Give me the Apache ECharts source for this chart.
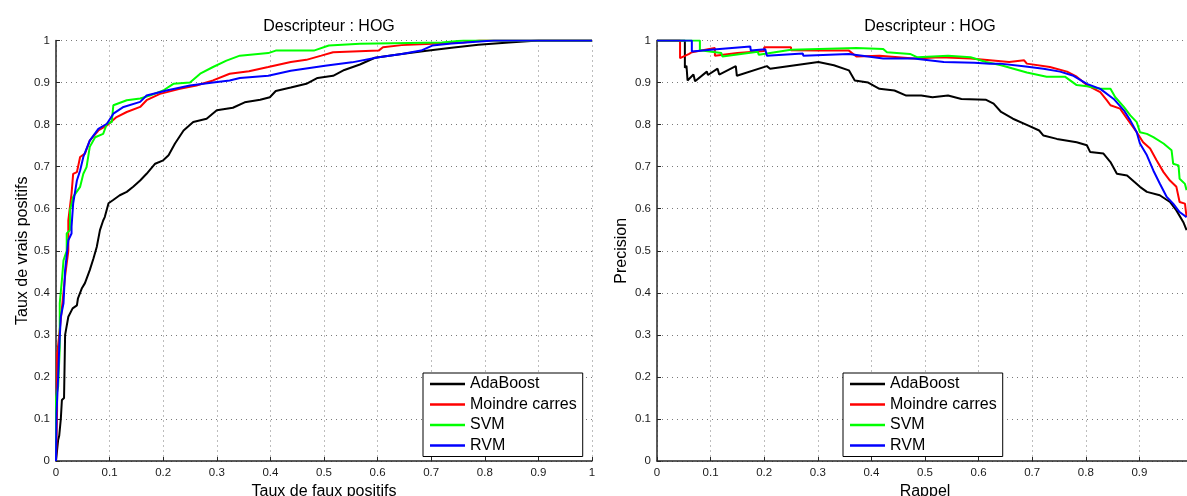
<!DOCTYPE html>
<html>
<head>
<meta charset="utf-8">
<script src="https://cdn.jsdelivr.net/npm/echarts@6/dist/echarts.min.js"></script>
<style>
  html, body { margin: 0; padding: 0; background: #fff; }
  #chart { width: 1187px; height: 496px; }
</style>
</head>
<body>
<div id="chart"></div>
<script>
// noms des methodes
var methodNames = ['AdaBoost', 'Moindre carres', 'SVM', 'RVM'];
var methodColors = ['#000000', '#ff0000', '#00ff00', '#0000ff'];
var axisTicks = [0, 0.1, 0.2, 0.3, 0.4, 0.5, 0.6, 0.7, 0.8, 0.9, 1];

// courbes ROC : [taux de faux positifs, taux de vrais positifs]
var rocAdaBoost = [[0,0],[0.004,0.05],[0.006,0.06],[0.009,0.1],[0.011,0.145],[0.015,0.15],[0.017,0.3],[0.023,0.343],[0.031,0.363],[0.039,0.37],[0.041,0.387],[0.048,0.41],[0.054,0.423],[0.063,0.454],[0.07,0.482],[0.076,0.509],[0.082,0.549],[0.088,0.572],[0.091,0.58],[0.098,0.613],[0.106,0.62],[0.119,0.632],[0.132,0.64],[0.144,0.652],[0.157,0.667],[0.169,0.683],[0.185,0.707],[0.2,0.715],[0.21,0.727],[0.222,0.755],[0.238,0.786],[0.256,0.806],[0.281,0.814],[0.3,0.834],[0.33,0.84],[0.352,0.853],[0.381,0.859],[0.399,0.865],[0.41,0.88],[0.438,0.888],[0.467,0.897],[0.488,0.911],[0.517,0.916],[0.538,0.93],[0.567,0.943],[0.595,0.959],[0.645,0.968],[0.688,0.975],[0.738,0.983],[0.788,0.99],[0.845,0.995],[0.9,1],[1,1]];
var rocMoindreCarres = [[0,0],[0.001,0.05],[0.002,0.12],[0.002,0.25],[0.006,0.3],[0.011,0.363],[0.017,0.44],[0.023,0.5],[0.023,0.572],[0.029,0.636],[0.032,0.683],[0.039,0.687],[0.045,0.723],[0.054,0.731],[0.063,0.762],[0.079,0.786],[0.095,0.798],[0.113,0.818],[0.132,0.83],[0.157,0.842],[0.169,0.858],[0.194,0.873],[0.231,0.885],[0.262,0.893],[0.293,0.905],[0.324,0.921],[0.36,0.927],[0.396,0.937],[0.438,0.949],[0.467,0.954],[0.495,0.964],[0.517,0.972],[0.602,0.976],[0.61,0.984],[0.645,0.989],[0.702,0.992],[0.76,0.995],[0.79,1],[1,1]];
var rocSVM = [[0,0],[0,0.15],[0.004,0.177],[0.007,0.27],[0.007,0.375],[0.011,0.43],[0.014,0.477],[0.02,0.5],[0.02,0.541],[0.026,0.549],[0.026,0.596],[0.032,0.628],[0.045,0.652],[0.051,0.683],[0.057,0.699],[0.063,0.747],[0.073,0.77],[0.088,0.778],[0.095,0.802],[0.104,0.806],[0.107,0.846],[0.132,0.858],[0.157,0.862],[0.175,0.869],[0.2,0.881],[0.219,0.897],[0.25,0.9],[0.269,0.921],[0.293,0.937],[0.318,0.952],[0.343,0.964],[0.396,0.97],[0.41,0.976],[0.481,0.976],[0.509,0.988],[0.567,0.992],[0.72,0.995],[0.76,1],[1,1]];
var rocRVM = [[0,0],[0.001,0.114],[0.004,0.2],[0.006,0.27],[0.009,0.343],[0.014,0.375],[0.017,0.454],[0.023,0.525],[0.029,0.541],[0.029,0.557],[0.032,0.612],[0.039,0.667],[0.045,0.691],[0.051,0.723],[0.063,0.762],[0.079,0.79],[0.095,0.802],[0.107,0.826],[0.126,0.842],[0.157,0.854],[0.169,0.869],[0.206,0.881],[0.25,0.893],[0.293,0.9],[0.324,0.905],[0.343,0.911],[0.396,0.916],[0.438,0.928],[0.502,0.94],[0.552,0.948],[0.602,0.96],[0.645,0.968],[0.681,0.976],[0.702,0.988],[0.738,0.993],[0.817,1],[1,1]];

// courbes precision / rappel : [rappel, precision]
var prAdaBoost = [[0,1],[0.052,1],[0.052,0.935],[0.055,0.94],[0.057,0.905],[0.068,0.919],[0.071,0.903],[0.093,0.926],[0.095,0.918],[0.113,0.933],[0.116,0.919],[0.147,0.939],[0.149,0.916],[0.205,0.939],[0.211,0.933],[0.301,0.949],[0.33,0.941],[0.358,0.929],[0.369,0.905],[0.394,0.9],[0.415,0.885],[0.443,0.881],[0.465,0.869],[0.493,0.869],[0.514,0.865],[0.543,0.869],[0.568,0.861],[0.614,0.859],[0.628,0.85],[0.642,0.83],[0.664,0.814],[0.692,0.798],[0.713,0.786],[0.721,0.774],[0.746,0.766],[0.783,0.758],[0.802,0.751],[0.808,0.735],[0.833,0.731],[0.846,0.711],[0.858,0.683],[0.877,0.679],[0.901,0.652],[0.914,0.64],[0.938,0.632],[0.957,0.616],[0.969,0.596],[0.982,0.568],[0.988,0.549]];
var prMoindreCarres = [[0,1],[0.043,1],[0.043,0.958],[0.06,0.968],[0.065,0.972],[0.108,0.982],[0.108,0.964],[0.15,0.97],[0.2,0.975],[0.2,0.984],[0.25,0.984],[0.25,0.977],[0.301,0.976],[0.358,0.976],[0.358,0.972],[0.372,0.962],[0.415,0.964],[0.479,0.957],[0.529,0.96],[0.585,0.957],[0.621,0.953],[0.657,0.949],[0.685,0.953],[0.69,0.945],[0.733,0.937],[0.765,0.926],[0.783,0.914],[0.802,0.894],[0.827,0.877],[0.839,0.858],[0.846,0.846],[0.864,0.838],[0.877,0.814],[0.895,0.782],[0.907,0.758],[0.92,0.743],[0.932,0.715],[0.945,0.687],[0.957,0.667],[0.969,0.652],[0.975,0.616],[0.985,0.612],[0.988,0.58]];
var prSVM = [[0,1],[0.08,1],[0.08,0.977],[0.12,0.97],[0.122,0.962],[0.188,0.973],[0.19,0.966],[0.25,0.978],[0.372,0.982],[0.422,0.98],[0.429,0.972],[0.472,0.968],[0.486,0.96],[0.543,0.964],[0.585,0.96],[0.614,0.949],[0.642,0.941],[0.69,0.924],[0.727,0.914],[0.761,0.914],[0.783,0.894],[0.802,0.891],[0.827,0.885],[0.846,0.885],[0.855,0.865],[0.871,0.842],[0.883,0.822],[0.895,0.806],[0.901,0.782],[0.914,0.778],[0.926,0.77],[0.945,0.755],[0.96,0.739],[0.963,0.707],[0.973,0.703],[0.975,0.671],[0.985,0.659],[0.988,0.644]];
var prRVM = [[0,1],[0.065,1],[0.065,0.974],[0.1,0.978],[0.174,0.986],[0.175,0.976],[0.202,0.979],[0.205,0.964],[0.272,0.969],[0.273,0.964],[0.358,0.968],[0.36,0.964],[0.422,0.957],[0.479,0.957],[0.535,0.949],[0.592,0.947],[0.621,0.945],[0.64,0.945],[0.684,0.939],[0.721,0.933],[0.752,0.926],[0.777,0.916],[0.802,0.897],[0.827,0.885],[0.852,0.861],[0.871,0.834],[0.883,0.81],[0.895,0.782],[0.901,0.755],[0.914,0.727],[0.926,0.691],[0.938,0.66],[0.951,0.628],[0.963,0.612],[0.975,0.592],[0.988,0.58]];

var rocData = [rocAdaBoost, rocMoindreCarres, rocSVM, rocRVM];
var prData = [prAdaBoost, prMoindreCarres, prSVM, prRVM];

var myChart = echarts.init(document.getElementById('chart'));
var font = 'Liberation Sans, Arial, Helvetica, sans-serif';

function valueAxis(gridIndex, name, nameGap) {
  return {
    type: 'value',
    gridIndex: gridIndex,
    min: axisTicks[0],
    max: axisTicks[axisTicks.length - 1],
    interval: 0.1,
    name: name,
    nameLocation: 'middle',
    nameGap: nameGap,
    nameTextStyle: { fontFamily: font, fontSize: 16, color: '#000' },
    axisLine: { show: true, lineStyle: { color: '#262626', width: 1.5 } },
    axisTick: { show: true, inside: true, length: 4, lineStyle: { color: '#262626' } },
    axisLabel: { fontFamily: font, fontSize: 11.5, color: '#1a1a1a', margin: 6 },
    splitLine: { show: true, lineStyle: { color: '#7a7a7a', width: 1, type: [1, 4] } }
  };
}

function legendFor(left) {
  return {
    data: methodNames,
    orient: 'vertical',
    left: left,
    top: 373,
    padding: [1, 6, 1, 7],
    itemGap: 0.5,
    itemWidth: 35,
    itemHeight: 2.5,
    icon: 'rect',
    backgroundColor: '#fff',
    borderColor: '#000',
    borderWidth: 1,
    borderRadius: 0,
    selectedMode: false,
    textStyle: { fontFamily: font, fontSize: 16, lineHeight: 20, color: '#000' }
  };
}

var series = [];
methodNames.forEach(function (n, i) {
  series.push({
    name: n, type: 'line', xAxisIndex: 0, yAxisIndex: 0,
    data: rocData[i], symbol: 'none', silent: true,
    lineStyle: { color: methodColors[i], width: 2 }, itemStyle: { color: methodColors[i] }
  });
});
methodNames.forEach(function (n, i) {
  series.push({
    name: n, type: 'line', xAxisIndex: 1, yAxisIndex: 1,
    data: prData[i], symbol: 'none', silent: true,
    lineStyle: { color: methodColors[i], width: 2 }, itemStyle: { color: methodColors[i] }
  });
});

var option = {
  animation: false,
  backgroundColor: '#fff',
  title: [
    { text: 'Descripteur : HOG', left: 324, top: 14, textAlign: 'center',
      textStyle: { fontFamily: font, fontSize: 16, fontWeight: 'normal', color: '#000' } },
    { text: 'Descripteur : HOG', left: 925, top: 14, textAlign: 'center',
      textStyle: { fontFamily: font, fontSize: 16, fontWeight: 'normal', color: '#000' } }
  ],
  grid: [
    { left: 56, top: 40.5, width: 536, height: 420.5, outerBoundsMode: 'none' },
    { left: 657, top: 40.5, width: 536, height: 420.5, outerBoundsMode: 'none' }
  ],
  xAxis: [
    valueAxis(0, 'Taux de faux positifs', 22),
    valueAxis(1, 'Rappel', 22)
  ],
  yAxis: [
    valueAxis(0, 'Taux de vrais positifs', 25),
    valueAxis(1, 'Precision', 27)
  ],
  legend: [legendFor(423), legendFor(843)],
  series: series
};

myChart.setOption(option);
</script>
</body>
</html>
